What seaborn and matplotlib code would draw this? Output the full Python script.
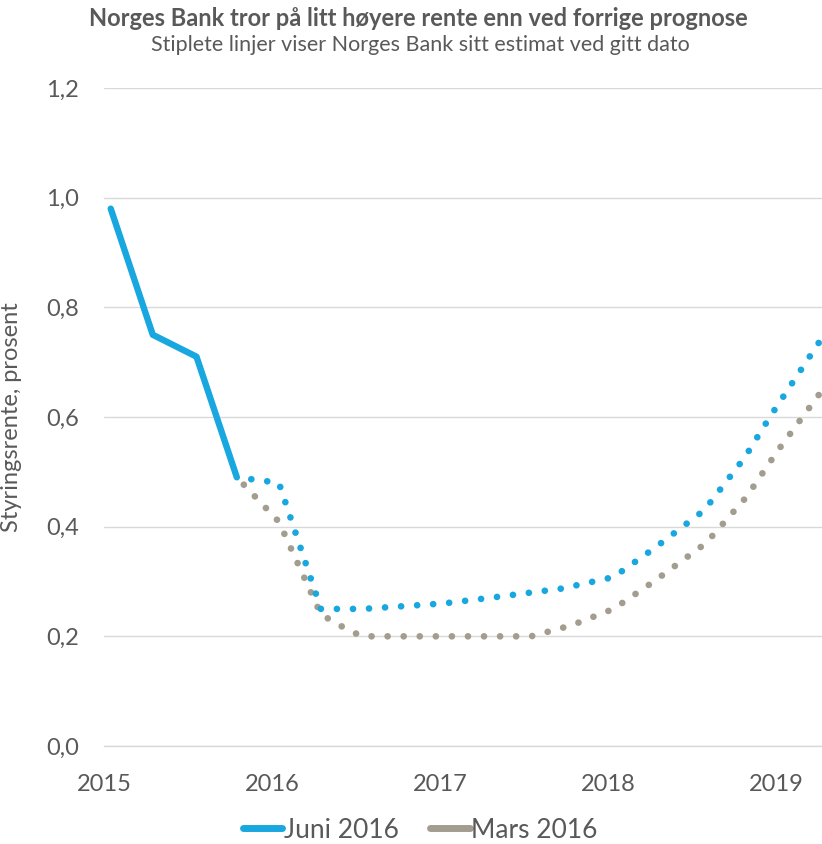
import matplotlib
matplotlib.use("Agg")
import matplotlib.pyplot as plt
from matplotlib.lines import Line2D
import seaborn as sns
import pandas as pd

# Data (decimal years)
hist_x = [2015.04, 2015.29, 2015.55, 2015.79]
hist_y = [0.98, 0.75, 0.71, 0.49]

juni_x = [2015.79, 2016.04, 2016.29, 2016.54, 2017.02, 2017.29, 2017.72, 2018.03,
          2018.27, 2018.57, 2018.81, 2018.96, 2019.25]
juni_y = [0.49, 0.48, 0.25, 0.25, 0.26, 0.27, 0.287, 0.308,
          0.36, 0.43, 0.526, 0.60, 0.735]

mars_x = [2015.79, 2016.04, 2016.29, 2016.46, 2016.54, 2017.54, 2017.78, 2018.03,
          2018.27, 2018.58, 2018.82, 2019.01, 2019.25]
mars_y = [0.49, 0.409, 0.24, 0.21, 0.20, 0.20, 0.22, 0.25,
          0.30, 0.37, 0.454, 0.54, 0.64]

years = [2015, 2016, 2017, 2018, 2019]
yticks = [0.0, 0.2, 0.4, 0.6, 0.8, 1.0, 1.2]
ytick_labels = ["0,0", "0,2", "0,4", "0,6", "0,8", "1,0", "1,2"]

title = "Norges Bank tror på litt høyere rente enn ved forrige prognose"
subtitle = "Stiplete linjer viser Norges Bank sitt estimat ved gitt dato"
ylabel = "Styringsrente, prosent"
series_names = ["Juni 2016", "Mars 2016"]

BLUE = "#18a7df"
GRAY = "#a39d90"
TXT = "#595959"
GRID = "#d9d9d9"

sns.set_theme(style="white")
plt.rcParams["font.family"] = ["Lato", "DejaVu Sans"]

fig = plt.figure(figsize=(8.22, 8.44), dpi=100)
ax = fig.add_axes([104/822, 1 - 746/844, 1 - 104/822, (746 - 88)/844])

df_hist = pd.DataFrame({"x": hist_x, "y": hist_y})
# drawn from the latest point backwards so the dotted pattern ends on the last value
df_juni = pd.DataFrame({"x": juni_x[::-1], "y": juni_y[::-1]})
df_mars = pd.DataFrame({"x": mars_x[::-1], "y": mars_y[::-1]})

dot_style = (0, (0.01, 2.4))
sns.lineplot(data=df_mars, x="x", y="y", ax=ax, color=GRAY, lw=4.8,
             linestyle=dot_style, dash_capstyle="round", sort=False, zorder=3)
sns.lineplot(data=df_juni, x="x", y="y", ax=ax, color=BLUE, lw=4.8,
             linestyle=dot_style, dash_capstyle="round", sort=False, zorder=4)
sns.lineplot(data=df_hist, x="x", y="y", ax=ax, color=BLUE, lw=4.6,
             solid_capstyle="round", sort=False, zorder=5)

ax.set_xlim(2015, 2019.27)
ax.set_ylim(0, 1.2)
ax.set_yticks(yticks)
ax.set_yticklabels(ytick_labels)
ax.set_xticks(years)
ax.set_xticklabels([str(y) for y in years])
ax.yaxis.grid(True, color=GRID, lw=1)
ax.set_axisbelow(True)
for s in ["top", "right", "left"]:
    ax.spines[s].set_visible(False)
ax.spines["bottom"].set_color(GRID)
ax.spines["bottom"].set_linewidth(1)
ax.tick_params(axis="x", which="both", direction="out", length=7, width=1,
               color=GRID, labelsize=17, labelcolor=TXT, pad=13)
ax.tick_params(axis="y", length=0, labelsize=17, labelcolor=TXT, pad=18)
ax.set_xlabel("")
ax.set_ylabel(ylabel, fontsize=17, color=TXT)
ax.yaxis.set_label_coords(-82/718, 0.5)

fig.text(418/822, 1 - 18/844, title, ha="center", va="center",
         fontsize=17, fontweight="bold", color=TXT)
fig.text(420/822, 1 - 45/844, subtitle, ha="center", va="center",
         fontsize=15.5, color=TXT)

handles = [Line2D([0], [0], color=BLUE, lw=5),
           Line2D([0], [0], color=GRAY, lw=5)]
fig.legend(handles, series_names, loc="center", bbox_to_anchor=(420/822, 1 - 830/844),
           ncol=2, frameon=False, fontsize=19, handlelength=1.5,
           handletextpad=0.05, columnspacing=1.2, labelcolor=TXT)

fig.savefig("out.png", dpi=100)
